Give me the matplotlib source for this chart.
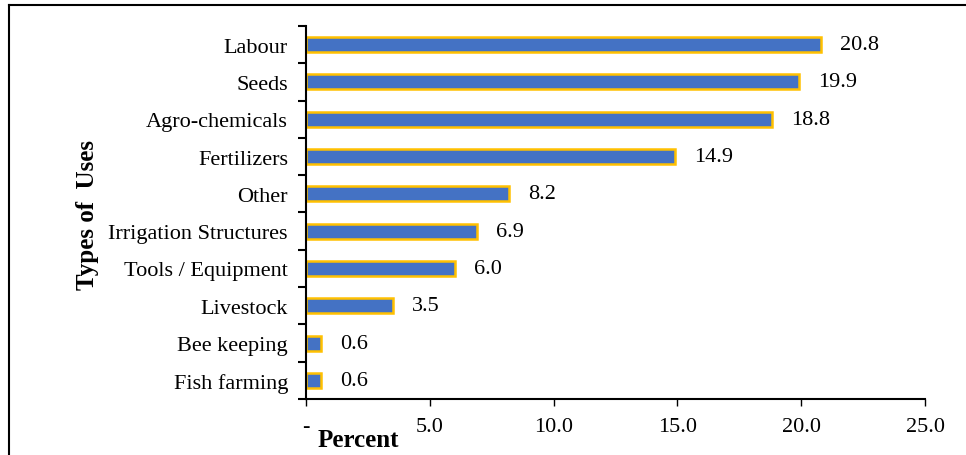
import numpy as np
import matplotlib
matplotlib.use('Agg')
import matplotlib.pyplot as plt
from matplotlib.lines import Line2D

CATEGORIES = ["Fish farming", "Bee keeping", "Livestock", "Tools / Equipment",
              "Irrigation Structures", "Other", "Fertilizers", "Agro-chemicals",
              "Seeds", "Labour"]
VALUES = [0.6, 0.6, 3.5, 6.0, 6.9, 8.2, 14.9, 18.8, 19.9, 20.8]
XTICKS = [0, 5, 10, 15, 20, 25]
XTICK_LABELS = ["-", "5.0", "10.0", "15.0", "20.0", "25.0"]

plt.rcParams['font.family'] = ['Liberation Serif', 'DejaVu Serif']

fig = plt.figure(figsize=(9.66, 4.56), dpi=100)
ax = fig.add_axes([0.3168, 0.1228, 0.9576 - 0.3168, 0.9408 - 0.1228])

y = np.arange(len(CATEGORIES))
ax.barh(y, VALUES, height=0.4, color='#4472C4', edgecolor='#FFC000', linewidth=1.8)
for yi, v in zip(y, VALUES):
    ax.annotate("{:.1f}".format(v), (v, yi), xytext=(14, 0), textcoords='offset points',
                va='center', ha='left', fontsize=16)

ax.set_xlim(0, 25)
ax.set_ylim(-0.5, len(CATEGORIES) - 0.5)
ax.set_xticks(XTICKS)
ax.set_xticklabels(XTICK_LABELS, fontsize=16)
ax.tick_params(axis='x', length=5, width=1, pad=8)

ax.set_yticks(np.arange(-0.5, len(CATEGORIES), 1.0))
ax.set_yticklabels([])
ax.tick_params(axis='y', which='major', length=6, width=1.5)
ax.set_yticks(y, minor=True)
ax.set_yticklabels(CATEGORIES, minor=True, fontsize=16)
ax.tick_params(axis='y', which='minor', length=0, pad=13)

for s in ['top', 'right']:
    ax.spines[s].set_visible(False)
ax.spines['left'].set_linewidth(1.5)
ax.spines['bottom'].set_linewidth(1.5)

fig.text(0.091, 0.528, "Types of  Uses", rotation=90, fontsize=18, fontweight='bold',
         ha='center', va='center')
fig.text(0.371, 0.033, "Percent", fontsize=18, fontweight='bold', ha='center', va='center')

# outer frame (top and left edges)
fig.add_artist(Line2D([9 / 966, 1.0], [1 - 6 / 456, 1 - 6 / 456], color='black', lw=1.5,
                      transform=fig.transFigure))
fig.add_artist(Line2D([9 / 966, 9 / 966], [0, 1 - 6 / 456], color='black', lw=1.5,
                      transform=fig.transFigure))

fig.savefig("out.png", dpi=100)
